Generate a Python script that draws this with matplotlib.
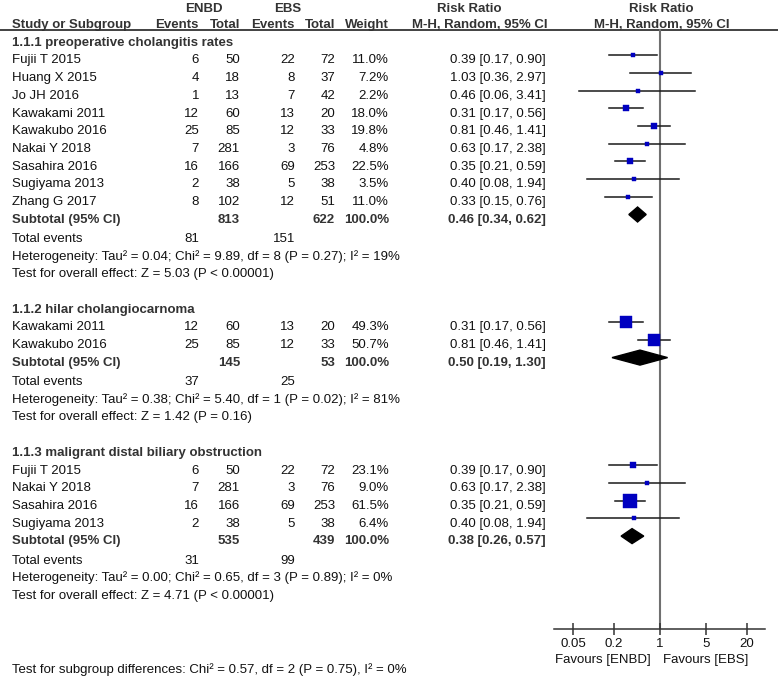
# Forest plot: ENBD vs EBS, risk ratio of cholangitis (RevMan style)
import matplotlib.pyplot as plt

plt.rcParams['font.family'] = ['Liberation Sans', 'DejaVu Sans']

# data
group_titles = ['1.1.1 preoperative cholangitis rates',
                '1.1.2 hilar cholangiocarnoma',
                '1.1.3 maligrant distal biliary obstruction']
study = ['Fujii T 2015', 'Huang X 2015', 'Jo JH 2016', 'Kawakami 2011', 'Kawakubo 2016',
         'Nakai Y 2018', 'Sasahira 2016', 'Sugiyama 2013', 'Zhang G 2017',
         'Kawakami 2011', 'Kawakubo 2016',
         'Fujii T 2015', 'Nakai Y 2018', 'Sasahira 2016', 'Sugiyama 2013']
group_of = [0, 0, 0, 0, 0, 0, 0, 0, 0, 1, 1, 2, 2, 2, 2]
enbd_events = [6, 4, 1, 12, 25, 7, 16, 2, 8, 12, 25, 6, 7, 16, 2]
enbd_total = [50, 18, 13, 60, 85, 281, 166, 38, 102, 60, 85, 50, 281, 166, 38]
ebs_events = [22, 8, 7, 13, 12, 3, 69, 5, 12, 13, 12, 22, 3, 69, 5]
ebs_total = [72, 37, 42, 20, 33, 76, 253, 38, 51, 20, 33, 72, 76, 253, 38]
weight = [11.0, 7.2, 2.2, 18.0, 19.8, 4.8, 22.5, 3.5, 11.0, 49.3, 50.7, 23.1, 9.0, 61.5, 6.4]
rr = [0.39, 1.03, 0.46, 0.31, 0.81, 0.63, 0.35, 0.40, 0.33, 0.31, 0.81, 0.39, 0.63, 0.35, 0.40]
rr_lo = [0.17, 0.36, 0.06, 0.17, 0.46, 0.17, 0.21, 0.08, 0.15, 0.17, 0.46, 0.17, 0.17, 0.21, 0.08]
rr_hi = [0.90, 2.97, 3.41, 0.56, 1.41, 2.38, 0.59, 1.94, 0.76, 0.56, 1.41, 0.90, 2.38, 0.59, 1.94]

sub_enbd_total = [813, 145, 535]
sub_ebs_total = [622, 53, 439]
sub_rr = [0.46, 0.50, 0.38]
sub_lo = [0.34, 0.19, 0.26]
sub_hi = [0.62, 1.30, 0.57]
tot_enbd_events = [81, 37, 31]
tot_ebs_events = [151, 25, 99]
heterogeneity = ['Heterogeneity: Tau\u00b2 = 0.04; Chi\u00b2 = 9.89, df = 8 (P = 0.27); I\u00b2 = 19%',
                 'Heterogeneity: Tau\u00b2 = 0.38; Chi\u00b2 = 5.40, df = 1 (P = 0.02); I\u00b2 = 81%',
                 'Heterogeneity: Tau\u00b2 = 0.00; Chi\u00b2 = 0.65, df = 3 (P = 0.89); I\u00b2 = 0%']
overall = ['Test for overall effect: Z = 5.03 (P < 0.00001)',
           'Test for overall effect: Z = 1.42 (P = 0.16)',
           'Test for overall effect: Z = 4.71 (P < 0.00001)']
subgroup_diff = 'Test for subgroup differences: Chi\u00b2 = 0.57, df = 2 (P = 0.75), I\u00b2 = 0%'
xticks = [0.05, 0.2, 1, 5, 20]
xtick_labels = ['0.05', '0.2', '1', '5', '20']

# layout (pixels)
W, H = 778, 677
FS = 9.5
fs_px = FS * 100 / 72
TXT = '#111111'
BOLD = '#333333'
col_x = {'name': 12, 'e1': 199, 't1': 240, 'e2': 295, 't2': 335, 'w': 389, 'rr': 546}
axis_y = 629
x_left, x_right, x_one, px_dec = 554, 765, 660, 66.5
step = 17.7

fig = plt.figure(figsize=(W / 100, H / 100), dpi=100)
tab = fig.add_axes([0, 0, 1, 1])
tab.set_xlim(0, W)
tab.set_ylim(H, 0)
tab.axis('off')


def put(x, y, s, ha='left', bold=False, color=None):
    tab.text(x, y + 0.36 * fs_px, s, ha=ha, va='baseline', fontsize=FS,
             fontweight='bold' if bold else 'normal',
             color=color or (BOLD if bold else TXT))


# forest panel
fp = fig.add_axes([x_left / W, (H - axis_y) / H, (x_right - x_left) / W, axis_y / H])
fp.patch.set_visible(False)
fp.set_xscale('log')
fp.set_xlim(10 ** ((x_left - x_one) / px_dec), 10 ** ((x_right - x_one) / px_dec))
fp.set_ylim(axis_y, 0)
for sp in ['top', 'left', 'right']:
    fp.spines[sp].set_visible(False)
fp.spines['bottom'].set_color('#333333')
fp.spines['bottom'].set_linewidth(1.1)
fp.set_yticks([])
fp.set_xticks(xticks)
fp.set_xticklabels(xtick_labels)
fp.minorticks_off()
fp.tick_params(axis='x', direction='inout', length=8, width=1.1, color='#333333',
               labelsize=FS, labelcolor=TXT, pad=2.5)
fp.axvline(1, ymin=0, ymax=1 - 30 / axis_y, color='#707070', lw=1.5, zorder=1)

# headers
put(204, 7, 'ENBD', ha='center', bold=True)
put(288, 7, 'EBS', ha='center', bold=True)
put(469, 7, 'Risk Ratio', ha='center', bold=True)
put(661, 7, 'Risk Ratio', ha='center', bold=True)
put(col_x['name'], 23, 'Study or Subgroup', bold=True)
put(col_x['e1'], 23, 'Events', ha='right', bold=True)
put(col_x['t1'], 23, 'Total', ha='right', bold=True)
put(col_x['e2'], 23, 'Events', ha='right', bold=True)
put(col_x['t2'], 23, 'Total', ha='right', bold=True)
put(col_x['w'], 23, 'Weight', ha='right', bold=True)
put(480, 23, 'M-H, Random, 95% CI', ha='center', bold=True)
put(662, 23, 'M-H, Random, 95% CI', ha='center', bold=True)
tab.axhline(30, color='#333333', lw=1.3)

y = 41
for g, title in enumerate(group_titles):
    put(col_x['name'], y, title, bold=True)
    for i in [k for k in range(len(study)) if group_of[k] == g]:
        y += step
        put(col_x['name'], y, study[i])
        put(col_x['e1'], y, str(enbd_events[i]), ha='right')
        put(col_x['t1'], y, str(enbd_total[i]), ha='right')
        put(col_x['e2'], y, str(ebs_events[i]), ha='right')
        put(col_x['t2'], y, str(ebs_total[i]), ha='right')
        put(col_x['w'], y, f'{weight[i]:.1f}%', ha='right')
        put(col_x['rr'], y, f'{rr[i]:.2f} [{rr_lo[i]:.2f}, {rr_hi[i]:.2f}]', ha='right')
        ym = y - 3.5
        fp.plot([rr_lo[i], rr_hi[i]], [ym, ym], color='#1a1a1a', lw=1.1, zorder=2)
        side = 2.8 + 0.17 * weight[i]
        fp.plot(rr[i], ym, marker='s', ms=side * 0.72, color='#0000c0',
                mec='#0000c0', mew=0.3, zorder=3)
    y += step
    put(col_x['name'], y, 'Subtotal (95% CI)', bold=True)
    put(col_x['t1'], y, str(sub_enbd_total[g]), ha='right', bold=True)
    put(col_x['t2'], y, str(sub_ebs_total[g]), ha='right', bold=True)
    put(col_x['w'], y, '100.0%', ha='right', bold=True)
    put(col_x['rr'], y, f'{sub_rr[g]:.2f} [{sub_lo[g]:.2f}, {sub_hi[g]:.2f}]', ha='right', bold=True)
    ym = y - 3.5
    fp.fill([sub_lo[g], sub_rr[g], sub_hi[g], sub_rr[g]], [ym, ym - 7.5, ym, ym + 7.5],
            color='black', zorder=3)
    y += step + 1.5
    put(col_x['name'], y, 'Total events')
    put(col_x['e1'], y, str(tot_enbd_events[g]), ha='right')
    put(col_x['e2'], y, str(tot_ebs_events[g]), ha='right')
    y += step
    put(col_x['name'], y, heterogeneity[g])
    y += step
    put(col_x['name'], y, overall[g])
    y += 2 * step

put(651, 658, 'Favours [ENBD]', ha='right')
put(663, 658, 'Favours [EBS]')
put(col_x['name'], 668, subgroup_diff)

fig.savefig('out.png', dpi=100)
